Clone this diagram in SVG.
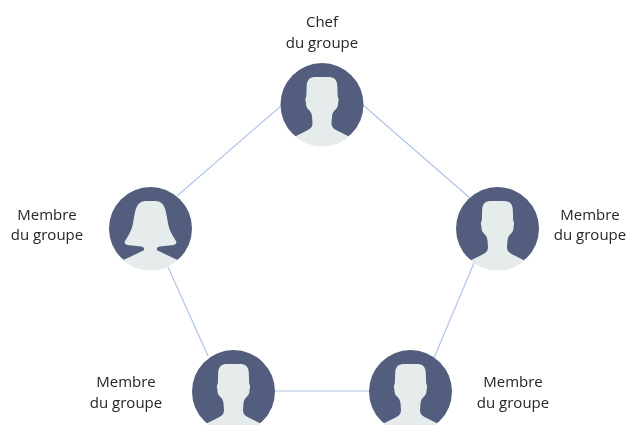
<svg xmlns="http://www.w3.org/2000/svg" width="626" height="425" viewBox="0 0 626 425">
<style>
.disc{fill:#535d7d}
.fig{fill:#e6ecec}
.lnk{stroke:#b0c4e8;stroke-width:1.2;fill:none}
text{font-family:"Open Sans","Liberation Sans",sans-serif;font-size:15px;fill:#262626;text-anchor:middle}
</style>
<defs>
<clipPath id="c"><circle r="41.9"/></clipPath>
<filter id="soft" x="-5%" y="-5%" width="110%" height="110%"><feGaussianBlur stdDeviation="0.35"/></filter>
<path id="man" class="fig" d="M-32 46L-32 34.5L-27 32L-14 25.5C-10.5 23.5-9.5 21.5-9.5 18.5L-10 12C-10.3 8-12 6.5-14 4.5C-15.5 3-16 1-16 -1L-16.6 -4.5C-16.8 -6-16 -7-15.7 -8L-15.3 -19C-15 -25-12 -27.5-6 -27.5L6 -27.5C12 -27.5 15 -25 15.3 -19L15.7 -8C16 -7 16.8 -6 16.6 -4.5L16 -1C16 1 15.5 3 14 4.5C12 6.5 10.3 8 10 12L9.5 18.5C9.5 21.5 10.5 23.5 14 25.5L27 32L32 34.5L32 46Z"/>
<path id="woman" class="fig" d="M-32 46L-32 34L-27 31.5L-7 22Q-6 21-6.5 19.5Q-7 18.5-9 18L-23 16.5Q-27 15.5-25.5 12.5Q-19 3-17.5 -5Q-16 -15-14.5 -20Q-12 -27.5-5 -27.5L5 -27.5Q12 -27.5 14.5 -20Q16 -15 17.5 -5Q19 3 25.5 12.5Q27 15.5 23 16.5L9 18Q7 18.5 6.5 19.5Q6 21 7 22L27 31.5L32 34L32 46Z"/>
<g id="pm"><circle class="disc" r="41.5"/><use href="#man" clip-path="url(#c)"/></g>
<g id="pw"><circle class="disc" r="41.5"/><use href="#woman" clip-path="url(#c)"/></g>
</defs>
<rect width="626" height="425" fill="#fff"/>
<g id="connectors" filter="url(#soft)">
<line class="lnk" x1="282" y1="105" x2="177" y2="196"/>
<line class="lnk" x1="363" y1="105" x2="470" y2="198"/>
<line class="lnk" x1="474" y1="263" x2="434" y2="358"/>
<line class="lnk" x1="168" y1="267" x2="208" y2="356"/>
<line class="lnk" x1="275" y1="391" x2="369" y2="391"/>
</g>
<g id="chef" filter="url(#soft)"><use href="#pm" x="322" y="104.5"/><text x="322" y="27">Chef</text><text x="322" y="48">du groupe</text></g>
<g id="membre-gauche" filter="url(#soft)"><use href="#pw" x="150.5" y="228.5"/><text x="47" y="220">Membre</text><text x="47" y="240">du groupe</text></g>
<g id="membre-droite" filter="url(#soft)"><use href="#pm" x="497.5" y="228.5"/><text x="590" y="220">Membre</text><text x="590" y="240">du groupe</text></g>
<g id="membre-bas-gauche" filter="url(#soft)"><use href="#pm" x="233.5" y="391.5"/><text x="126" y="387">Membre</text><text x="126" y="408">du groupe</text></g>
<g id="membre-bas-droite" filter="url(#soft)"><use href="#pm" x="410.5" y="391.5"/><text x="513" y="387">Membre</text><text x="513" y="408">du groupe</text></g>
</svg>
